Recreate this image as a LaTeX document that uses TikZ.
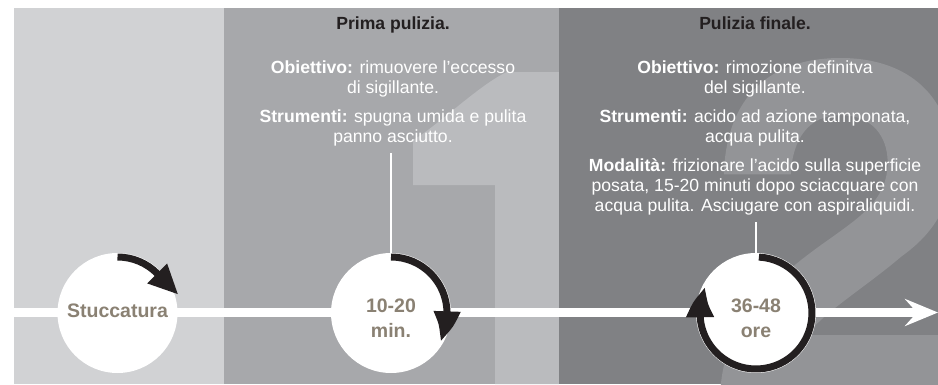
\documentclass[tikz,border=0pt]{standalone}
\usepackage{fontspec}
\setmainfont{Liberation Sans}
\usetikzlibrary{arrows.meta,bending}
\definecolor{pone}{HTML}{D1D2D4}
\definecolor{ptwo}{HTML}{A7A8AB}
\definecolor{onecol}{HTML}{BABBBE}
\definecolor{pthree}{HTML}{808184}
\definecolor{twocol}{HTML}{939497}
\definecolor{titlecol}{HTML}{231F20}
\definecolor{ringcol}{HTML}{231F20}
\definecolor{circtext}{HTML}{8A8173}
\begin{document}
\begin{tikzpicture}[x=1pt,y=1pt,
  circ/.style={circle, fill=white, minimum size=120pt, inner sep=0pt},
  ring/.style={draw=ringcol, fill=none, line width=7pt, ringcol},
  conn/.style={draw=white, line width=2pt},
  bodytext/.style={text=white, inner sep=0pt, anchor=base, font=\fontsize{17.6}{20}\selectfont},
  titletext/.style={text=titlecol, inner sep=0pt, anchor=base, font=\fontsize{17.6}{20}\selectfont\bfseries},
  circletext/.style={text=circtext, inner sep=0pt, anchor=base, font=\fontsize{19.5}{24}\selectfont\bfseries}]
\useasboundingbox (0,0) rectangle (938,384);
\fill[white] (0,0) rectangle (938,384);
% panels
\fill[pone] (14,0) rectangle (224,376);
\fill[ptwo] (224,0) rectangle (559,376);
\begin{scope}
  \clip (224,0) rectangle (559,376);
  \fill[onecol] (495,0) -- (495,199) -- (413,199) -- (413,244)
     .. controls (435,256) and (480,300) .. (507,312) -- (570,312) -- (570,0) -- cycle;
\end{scope}
\fill[pthree] (559,0) rectangle (938,376);
\begin{scope}
  \clip (559,0) rectangle (938,376);
  \begin{scope}[shift={(707.4,-18)}, scale=0.4845]
    \fill[twocol, even odd rule]
      (26,0) -- (529,0) -- (529,138) -- (205,138)
      .. controls (240,185) and (330,240) .. (400,300)
      .. controls (470,350) and (505,410) .. (505,495)
      .. controls (505,625) and (420,710) .. (275,710)
      .. controls (110,710) and (38,610) .. (34,470)
      -- (172,470)
      .. controls (176,545) and (210,592) .. (275,592)
      .. controls (340,592) and (372,548) .. (372,495)
      .. controls (372,420) and (320,385) .. (250,335)
      .. controls (100,230) and (26,140) .. (26,0) -- cycle;
  \end{scope}
\end{scope}
% timeline
\coordinate (tl0) at (14,71.5);
\coordinate (tl1) at (938,71.5);
\draw[white, line width=9pt, -{Stealth[length=33pt,width=27pt,inset=12pt]}] (tl0) -- (tl1);
% circles
\node[circ] (c1) at (117.5,71) {};
\node[circ] (c2) at (391,71) {};
\node[circ] (c3) at (756,71) {};
% connectors
\coordinate (k2) at (391,231);
\coordinate (k3) at (756,162);
\draw[conn] (k2) -- (c2.north);
\draw[conn] (k3) -- (c3.north);
% rotating arrows
\draw[ring, -{Triangle[length=30pt,width=26pt]}]
  ([shift={(90:56)}]c1.center) arc[start angle=90, end angle=45, radius=56] -- ++(-45:30);
\draw[ring, -{Triangle[length=31pt,width=25pt,bend]}]
  ([shift={(90:56)}]c2.center) arc[start angle=90, end angle=-30, radius=56];
\draw[ring, -{Triangle[length=31pt,width=26pt,bend]}]
  ([shift={(87:56)}]c3.center) arc[start angle=87, end angle=-207, radius=56];
% circle texts
\node[circletext] (s1) at (117.5,67) {Stuccatura};
\node[circletext] (s2a) at (391,72) {10-20};
\node[circletext] (s2b) at (391,47) {min.};
\node[circletext] (s3a) at (756,72) {36-48};
\node[circletext] (s3b) at (756,47) {ore};
% panel 2 texts
\node[titletext] (h2) at (393,355) {Prima pulizia.};
\node[bodytext] (a1) at (393,311) {\textbf{Obiettivo:} rimuovere l’eccesso};
\node[bodytext] (a2) at (393,291) {di sigillante.};
\node[bodytext] (a3) at (393,262) {\textbf{Strumenti:} spugna umida e pulita};
\node[bodytext] (a4) at (393,242) {panno asciutto.};
% panel 3 texts
\node[titletext] (h3) at (755,355) {Pulizia finale.};
\node[bodytext] (b1) at (755,311) {\textbf{Obiettivo:} rimozione definitva};
\node[bodytext] (b2) at (755,291) {del sigillante.};
\node[bodytext] (b3) at (755,262) {\textbf{Strumenti:} acido ad azione tamponata,};
\node[bodytext] (b4) at (755,242) {acqua pulita.};
\node[bodytext] (b5) at (755,213) {\textbf{Modalità:} frizionare l’acido sulla superficie};
\node[bodytext] (b6) at (755,193) {posata, 15-20 minuti dopo sciacquare con};
\node[bodytext] (b7) at (755,173) {acqua pulita. Asciugare con aspiraliquidi.};
\end{tikzpicture}
\end{document}
